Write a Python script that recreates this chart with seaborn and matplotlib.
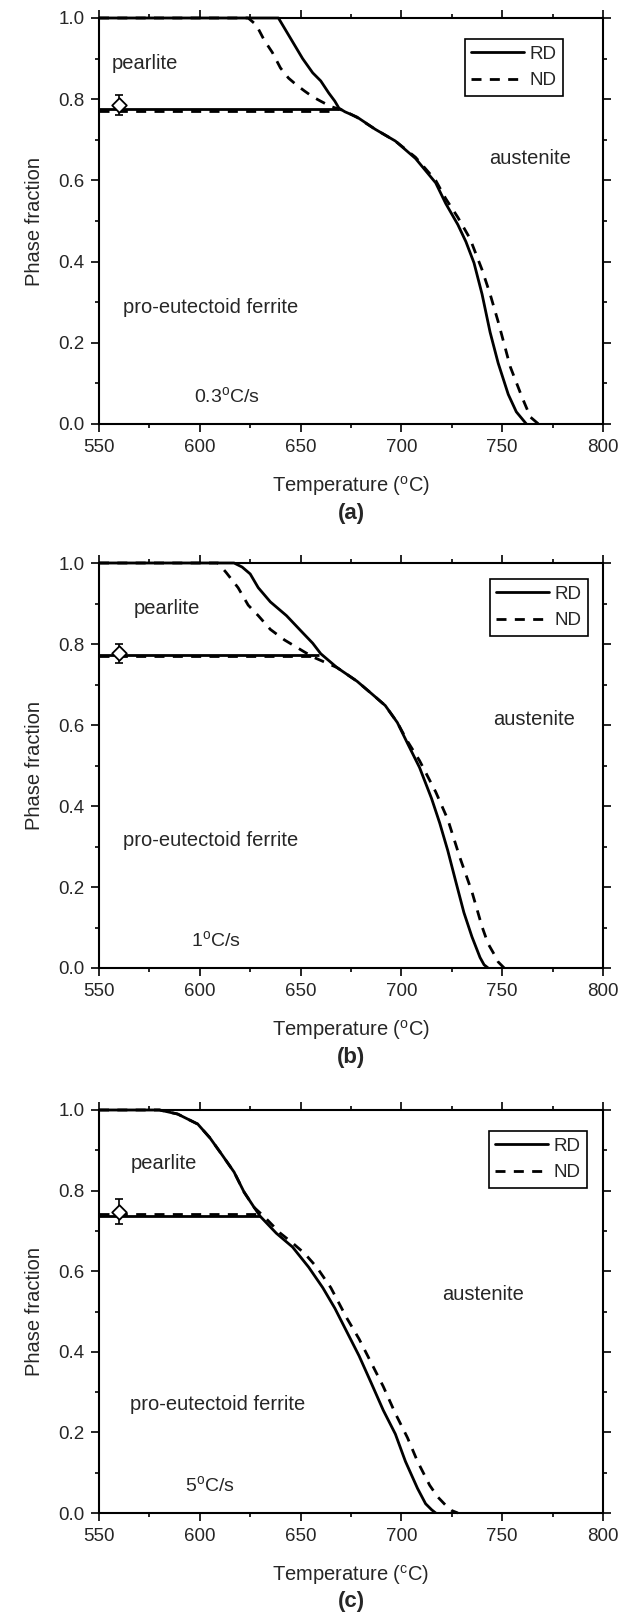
import numpy as np
import pandas as pd
import matplotlib
matplotlib.use("Agg")
import matplotlib.pyplot as plt
import seaborn as sns
from matplotlib.lines import Line2D
from matplotlib.ticker import MultipleLocator, FormatStrFormatter

# ---------------- data: phase fractions vs temperature ----------------
# (a) 0.3 C/s
a_rd_T = [550, 639, 645, 651, 656, 660, 664, 667, 669, 672, 678, 687, 697, 707, 717,
          722, 728, 732, 736, 740, 744, 748, 753, 757, 760, 762]
a_rd_f = [1.0, 1.0, 0.95, 0.90, 0.865, 0.845, 0.815, 0.795, 0.778, 0.769, 0.756, 0.726,
          0.697, 0.654, 0.594, 0.543, 0.491, 0.449, 0.397, 0.32, 0.226, 0.15, 0.073,
          0.030, 0.012, 0.0]
a_nd_T = [550, 624, 628, 632, 636, 640, 644, 648, 652, 656, 660, 665, 670, 673, 678, 687,
          697, 707, 717, 722, 728, 734, 740, 744, 748, 754, 760, 764, 768]
a_nd_f = [1.0, 1.0, 0.983, 0.945, 0.915, 0.877, 0.852, 0.835, 0.82, 0.806, 0.795, 0.782,
          0.774, 0.768, 0.755, 0.726, 0.697, 0.657, 0.60, 0.555, 0.509, 0.457, 0.38,
          0.32, 0.252, 0.141, 0.064, 0.017, 0.0]
a_ferrite = {"RD": (0.776, 669), "ND": (0.771, 668)}
a_measured = (560, 0.785, 0.025)

# (b) 1 C/s
b_rd_T = [550, 617, 621, 625, 629, 635, 643, 651, 656, 660, 668, 678, 686, 692, 698, 703,
          709, 715, 719, 723, 727, 731, 735, 739, 741, 743]
b_rd_f = [1.0, 1.0, 0.99, 0.973, 0.939, 0.904, 0.870, 0.828, 0.802, 0.776, 0.742, 0.708,
          0.674, 0.648, 0.606, 0.555, 0.495, 0.418, 0.358, 0.29, 0.213, 0.137, 0.077,
          0.026, 0.008, 0.0]
b_nd_T = [550, 609, 613, 619, 624, 629, 635, 642, 647, 652, 657, 668, 678, 686, 692, 698,
          703, 709, 717, 723, 729, 735, 740, 743, 746, 748, 751]
b_nd_f = [1.0, 1.0, 0.977, 0.939, 0.896, 0.870, 0.836, 0.81, 0.795, 0.78, 0.766, 0.742,
          0.708, 0.674, 0.648, 0.606, 0.56, 0.512, 0.435, 0.367, 0.273, 0.188, 0.102,
          0.06, 0.034, 0.015, 0.0]
b_ferrite = {"RD": (0.774, 659), "ND": (0.770, 656)}
b_measured = (560, 0.777, 0.024)

# (c) 5 C/s
c_rd_T = [550, 580, 589, 599, 605, 611, 617, 622, 627, 630, 638, 646, 654, 661, 667, 673,
          679, 685, 691, 697, 702, 708, 712, 715, 717]
c_rd_f = [1.0, 1.0, 0.99, 0.965, 0.931, 0.889, 0.846, 0.796, 0.758, 0.736, 0.694, 0.66,
          0.61, 0.559, 0.508, 0.449, 0.39, 0.323, 0.255, 0.196, 0.128, 0.061, 0.023,
          0.008, 0.0]
c_nd_T = [550, 580, 589, 599, 605, 611, 617, 622, 627, 632, 640, 646, 652, 658, 665, 673,
          679, 685, 691, 697, 703, 708, 714, 718, 722, 725, 728]
c_nd_f = [1.0, 1.0, 0.99, 0.965, 0.931, 0.889, 0.846, 0.796, 0.758, 0.735, 0.694, 0.67,
          0.644, 0.61, 0.559, 0.483, 0.432, 0.373, 0.314, 0.247, 0.187, 0.128, 0.069,
          0.04, 0.019, 0.006, 0.0]
c_ferrite = {"RD": (0.738, 630), "ND": (0.741, 632)}
c_measured = (560, 0.748, 0.032)

x_ticks = [550, 600, 650, 700, 750, 800]
y_ticks = [0.0, 0.2, 0.4, 0.6, 0.8, 1.0]
series_names = ["RD", "ND"]
rate_labels = [r"0.3$^{\mathrm{o}}$C/s", r"1$^{\mathrm{o}}$C/s", r"5$^{\mathrm{o}}$C/s"]
xlabels = [r"Temperature ($^{\mathrm{o}}$C)", r"Temperature ($^{\mathrm{o}}$C)",
           r"Temperature ($^{\mathrm{c}}$C)"]
panel_tags = ["(a)", "(b)", "(c)"]

# ---------------- style ----------------
sns.set_theme(style="ticks")
plt.rcParams["font.family"] = ["Liberation Sans", "DejaVu Sans"]
plt.rcParams["mathtext.fontset"] = "custom"
plt.rcParams["mathtext.rm"] = "Liberation Sans"
plt.rcParams["mathtext.it"] = "Liberation Sans:italic"
plt.rcParams["mathtext.bf"] = "Liberation Sans:bold"

LW = 2.0
DASH = (3.6, 3.0)

fig = plt.figure(figsize=(6.2, 16.14), dpi=100)
W, H = 620.0, 1614.0
ax_px = [(18, 424), (563, 968), (1110, 1513)]  # top, bottom pixel rows
left_px, right_px = 99, 603

panels = [
    dict(rd=(a_rd_T, a_rd_f), nd=(a_nd_T, a_nd_f), fer=a_ferrite, meas=a_measured,
         txt=dict(pearlite=(556.5, 0.889), austenite=(743.5, 0.654),
                  pro=(562, 0.286), rate=(597, 0.068)),
         leg=(0.921, 0.948)),
    dict(rd=(b_rd_T, b_rd_f), nd=(b_nd_T, b_nd_f), fer=b_ferrite, meas=b_measured,
         txt=dict(pearlite=(567, 0.887), austenite=(745.3, 0.614),
                  pro=(562, 0.316), rate=(595.5, 0.068)),
         leg=(0.970, 0.960)),
    dict(rd=(c_rd_T, c_rd_f), nd=(c_nd_T, c_nd_f), fer=c_ferrite, meas=c_measured,
         txt=dict(pearlite=(565.6, 0.867), austenite=(720, 0.542),
                  pro=(565.6, 0.268), rate=(592.9, 0.069)),
         leg=(0.968, 0.948)),
]

for i, p in enumerate(panels):
    top, bot = ax_px[i]
    ax = fig.add_axes([left_px / W, (H - bot) / H, (right_px - left_px) / W, (bot - top) / H])

    for name in series_names:
        T, f = p["rd"] if name == "RD" else p["nd"]
        df = pd.DataFrame({"T": T, "f": f})
        kw = dict(color="black", lw=LW, sort=False, estimator=None, ax=ax, legend=False)
        sns.lineplot(data=df, x="T", y="f", **kw)
        level, t_end = p["fer"][name]
        df2 = pd.DataFrame({"T": [550, t_end], "f": [level, level]})
        sns.lineplot(data=df2, x="T", y="f", **kw)

    # ND curves are dashed
    lines = ax.get_lines()
    for ln in lines[2:4]:
        ln.set_linestyle((0, DASH))
    for ln in lines:
        ln.set_clip_on(False)
        ln.set_solid_capstyle("butt")
        ln.set_dash_capstyle("butt")

    # measured point with error bar
    mx, my, me = p["meas"]
    ax.errorbar([mx], [my], yerr=[me], fmt="none", ecolor="black", elinewidth=1.2,
                capsize=3, capthick=1.2, zorder=4)
    sns.scatterplot(x=[mx], y=[my], marker="D", s=55, facecolor="white",
                    edgecolor="black", linewidth=1.3, zorder=5, ax=ax)

    # region labels
    fs = 14.5
    ax.text(*p["txt"]["pearlite"], "pearlite", fontsize=fs, ha="left", va="center")
    ax.text(*p["txt"]["austenite"], "austenite", fontsize=fs, ha="left", va="center")
    ax.text(*p["txt"]["pro"], "pro-eutectoid ferrite", fontsize=fs, ha="left", va="center")
    ax.text(*p["txt"]["rate"], rate_labels[i], fontsize=14, ha="left", va="center")

    ax.set_xlim(550, 800)
    ax.set_ylim(0, 1.0)
    ax.set_xticks(x_ticks)
    ax.set_yticks(y_ticks)
    ax.xaxis.set_minor_locator(MultipleLocator(25))
    ax.yaxis.set_minor_locator(MultipleLocator(0.1))
    ax.yaxis.set_major_formatter(FormatStrFormatter("%.1f"))
    ax.tick_params(which="both", direction="out", top=True, right=True,
                   labeltop=False, labelright=False, color="black", width=1.2)
    ax.tick_params(which="major", length=5.5, labelsize=13.5, pad=5)
    ax.tick_params(which="minor", length=3)
    for s in ax.spines.values():
        s.set_linewidth(1.5)
        s.set_color("black")
        s.set_visible(True)

    ax.set_xlabel(xlabels[i], fontsize=14.5, labelpad=13)
    ax.set_ylabel("Phase fraction", fontsize=14.5, labelpad=10)
    ax.text(0.5, -89.0 / (bot - top), panel_tags[i], transform=ax.transAxes,
            fontsize=16, fontweight="bold", ha="center", va="center")

    handles = [Line2D([], [], color="black", lw=LW, ls="-"),
               Line2D([], [], color="black", lw=LW, ls=(0, DASH))]
    leg = ax.legend(handles, series_names, loc="upper right", bbox_to_anchor=p["leg"],
                    bbox_transform=ax.transAxes, borderaxespad=0, fontsize=13.5,
                    handlelength=2.8, handletextpad=0.3, borderpad=0.35,
                    labelspacing=0.5, frameon=True, fancybox=False, framealpha=1)
    leg.get_frame().set_edgecolor("black")
    leg.get_frame().set_linewidth(1.2)

fig.savefig("out.png", dpi=100, facecolor="white")
